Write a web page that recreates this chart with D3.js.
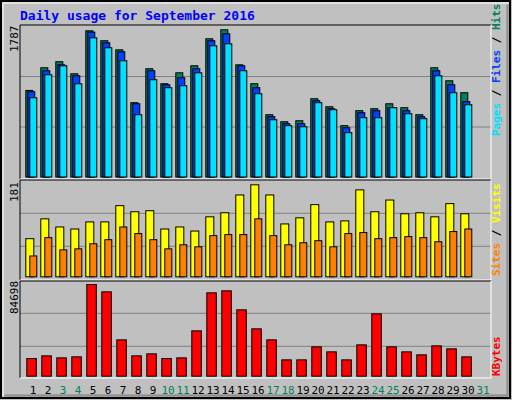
<!DOCTYPE html><html><head><meta charset="utf-8">
<script src="https://cdn.jsdelivr.net/npm/d3@7"></script>
<style>body{margin:0;background:#fff}svg{display:block}text{font-family:"DejaVu Sans Mono",monospace}</style>
</head><body><svg id="c" width="512" height="400"></svg>
<script>
const days = d3.range(1, 32);
const weekend = [3,4,10,11,17,18,24,25,31];
const hits  = [1051,1326,1399,1253,1775,1654,1544,902,1314,1132,1265,1350,1678,1787,1362,1132,756,671,683,950,853,623,805,829,889,841,756,1326,1168,1023];
const files = [1035,1290,1362,1229,1759,1629,1520,889,1290,1120,1205,1314,1654,1738,1350,1084,732,647,647,926,829,598,780,805,841,805,732,1290,1120,914];
const pages = [962,1241,1350,1132,1690,1569,1411,756,1181,1084,1108,1265,1593,1617,1290,1011,695,623,610,902,817,538,720,720,841,768,708,1229,1023,877];
const visits = [75,114,98,94,108,108,140,128,130,94,98,90,118,126,161,181,161,104,116,142,108,110,171,128,151,124,126,118,144,124];
const sites  = [41,77,53,55,65,73,98,85,73,55,63,59,81,83,83,114,81,63,67,71,59,85,87,75,77,79,77,69,89,94];
const kbytes = [16324,18788,16940,17864,84698,77924,33572,18788,20636,16324,16940,41888,77000,78848,61292,43736,33572,15092,15092,27104,22484,15092,28952,57596,27104,22484,19712,28028,25256,17864];

const svg = d3.select("#c");
svg.append("rect").attr("x",0).attr("y",0).attr("width",512).attr("height",400).attr("fill","#c0c0c0");
svg.append("rect").attr("x",1).attr("y",1).attr("width",509).attr("height",397).attr("fill","none").attr("stroke","#000").attr("stroke-width",2);
svg.append("path").attr("d","M3,397V3H509").attr("stroke","#fff").attr("fill","none");
svg.append("path").attr("d","M4,396H508V4").attr("stroke","#808080").attr("fill","none");
svg.append("path").attr("d","M5,395H507V5").attr("stroke","#808080").attr("fill","none");

svg.append("text").attr("x",20).attr("y",20).attr("fill","#0000ff").attr("font-size",13).attr("font-weight","bold").text("Daily usage for September 2016");

const x = d3.scaleLinear().domain([1,32]).range([25.3, 25.3+15*31]);
const L=20, R=491;
function panel(y0,y1,grids){
  svg.append("rect").attr("x",L).attr("y",y0).attr("width",R-L).attr("height",y1-y0).attr("fill","#c0c0c0");
  grids.forEach(g=>svg.append("line").attr("x1",L).attr("x2",R).attr("y1",g).attr("y2",g).attr("stroke","#808080").attr("stroke-width",1));
  svg.append("path").attr("d",`M${L},${y1}V${y0}H${R}`).attr("stroke","#000").attr("fill","none");
  svg.append("path").attr("d",`M${L},${y1}H${R}V${y0}`).attr("stroke","#fff").attr("fill","none");
}
panel(25,179,[76.5,127]);
panel(180,280,[213.3,246.3]);
panel(281,378,[313.3,346.3]);

function bars(data,scale,base,off,w,color){
  svg.append("g").selectAll("rect").data(data).join("rect")
    .attr("x",(d,i)=>x(i+1)+off+0.5).attr("y",d=>scale(d)+0.5)
    .attr("width",w).attr("height",d=>base-scale(d))
    .attr("fill",color).attr("stroke","#000").attr("stroke-width",1);
}
const yTop = d3.scaleLinear().domain([0,d3.max(hits)]).range([176.5,29.3]);
bars(hits,yTop,176.5,0,7,"#00805c");
bars(files,yTop,176.5,2,7,"#0040ff");
bars(pages,yTop,176.5,4,7,"#00e0ff");
const yMid = d3.scaleLinear().domain([0,d3.max(visits)]).range([276.3,184.3]);
bars(visits,yMid,276.3,0,8,"#ffff00");
bars(sites,yMid,276.3,4,7,"#ff8000");
const yBot = d3.scaleLinear().domain([0,d3.max(kbytes)]).range([375.7,284]);
bars(kbytes,yBot,375.7,1,9.5,"#ff0000");

function vlabel(xp,yp,txt,color){
  svg.append("text").attr("transform",`translate(${xp},${yp}) rotate(-90)`).attr("fill",color).attr("font-size",11).text(txt);
}
vlabel(18,52,String(d3.max(hits)),"#000");
vlabel(18,202,String(d3.max(visits)),"#000");
vlabel(18,314,String(d3.max(kbytes)),"#000");

function rlabel(yStart,parts){
  const t=svg.append("text").attr("transform",`translate(500,${yStart}) rotate(-90)`).attr("font-size",11).attr("font-weight","bold");
  parts.forEach(p=>t.append("tspan").attr("fill",p[1]).text(p[0]));
}
rlabel(136,[["Pages","#00e0ff"],[" / ","#000"],["Files","#0040ff"],[" / ","#000"],["Hits","#00805c"]]);
rlabel(276,[["Sites","#ff8000"],[" / ","#000"],["Visits","#ffff00"]]);
rlabel(376,[["KBytes","#ff0000"]]);

svg.append("g").selectAll("text").data(days).join("text")
  .attr("x",d=>x(d)+7.7).attr("y",394).attr("text-anchor","middle").attr("font-size",11)
  .attr("fill",d=>weekend.includes(d)?"#00805c":"#000").text(d=>d);
</script></body></html>
